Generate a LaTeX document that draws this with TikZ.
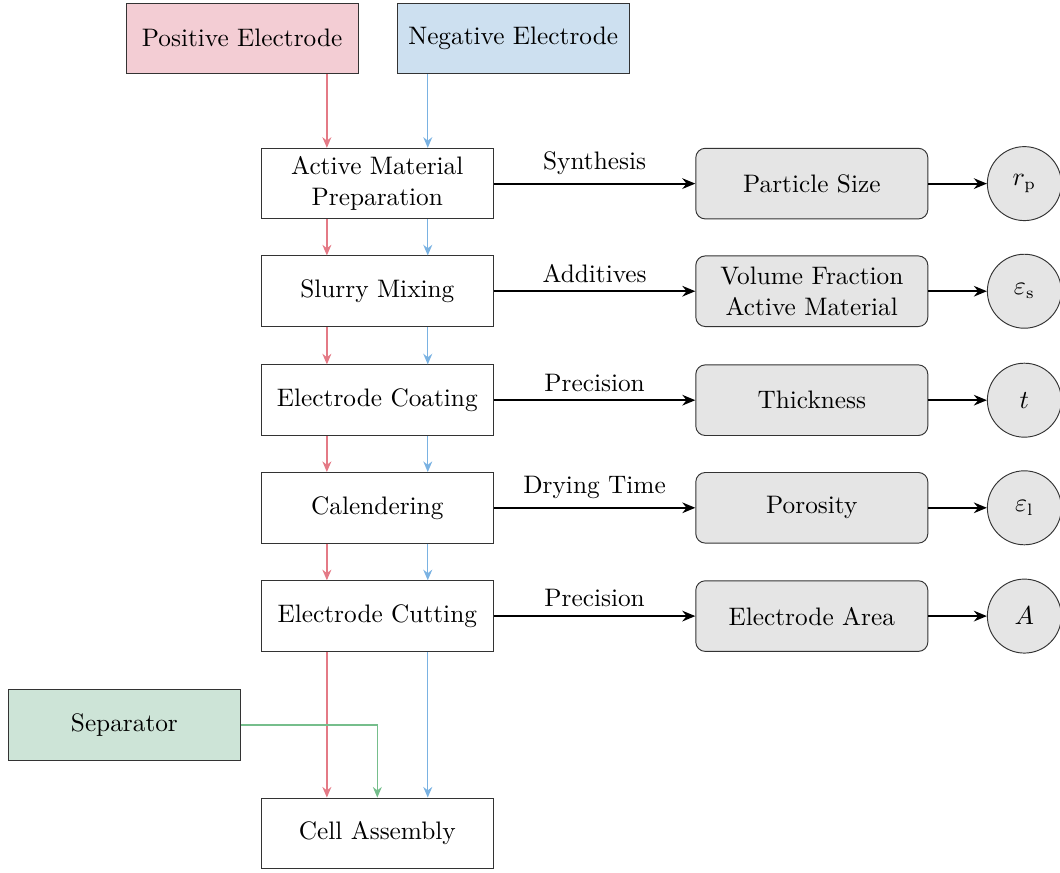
\documentclass[tikz,border=0pt]{standalone}
\usepackage{amsmath}
\usetikzlibrary{calc,arrows.meta}
\definecolor{posfill}{RGB}{243,205,212}
\definecolor{negfill}{RGB}{205,224,240}
\definecolor{sepfill}{RGB}{205,228,215}
\definecolor{posline}{RGB}{228,122,134}
\definecolor{negline}{RGB}{122,178,226}
\definecolor{sepline}{RGB}{118,190,140}
\tikzset{
  stepbox/.style={draw=black!80,fill=white,minimum width=3.45cm,minimum height=1.05cm,align=center,
    font=\fontsize{10.7}{13}\selectfont},
  propbox/.style={stepbox,fill=gray!20,rounded corners=4pt},
  varcirc/.style={draw=black!80,fill=gray!20,circle,minimum size=1.1cm,font=\fontsize{10.7}{13}\selectfont},
  flow/.style={-{Stealth[length=5.5pt,width=4.5pt]},thick},
  posflow/.style={-{Stealth[length=4.5pt,width=3.8pt]},posline,semithick},
  negflow/.style={-{Stealth[length=4.5pt,width=3.8pt]},negline,semithick},
  sepflow/.style={-{Stealth[length=4.5pt,width=3.8pt]},sepline,semithick},
  tag/.style={above,font=\fontsize{10.7}{13}\selectfont}
}

\begin{document}
\begin{tikzpicture}
  \useasboundingbox (0,0) rectangle (15.76,-12.97);

  % inputs
  \node[stepbox,fill=posfill] (pos) at (3.60,-0.57) {Positive Electrode};
  \node[stepbox,fill=negfill] (neg) at (7.63,-0.57) {Negative Electrode};
  \node[stepbox,fill=sepfill] (sep) at (1.85,-10.78) {Separator};

  % process steps
  \node[stepbox] (prep)   at (5.61,-2.73)  {Active Material\\Preparation};
  \node[stepbox] (slurry) at (5.61,-4.33)  {Slurry Mixing};
  \node[stepbox] (coat)   at (5.61,-5.95)  {Electrode Coating};
  \node[stepbox] (cal)    at (5.61,-7.55)  {Calendering};
  \node[stepbox] (cut)    at (5.61,-9.16)  {Electrode Cutting};
  \node[stepbox] (cell)   at (5.61,-12.39) {Cell Assembly};

  % properties
  \node[propbox] (size)  at (12.07,-2.73) {Particle Size};
  \node[propbox] (frac)  at (12.07,-4.33) {Volume Fraction\\Active Material};
  \node[propbox] (thick) at (12.07,-5.95) {Thickness};
  \node[propbox] (poro)  at (12.07,-7.55) {Porosity};
  \node[propbox] (area)  at (12.07,-9.16) {Electrode Area};

  % parameters
  \node[varcirc] (rp)  at (15.23,-2.73) {$r_{\mathrm{p}}$};
  \node[varcirc] (es)  at (15.23,-4.33) {$\varepsilon_{\mathrm{s}}$};
  \node[varcirc] (tt)  at (15.23,-5.95) {$t$};
  \node[varcirc] (el)  at (15.23,-7.55) {$\varepsilon_{\mathrm{l}}$};
  \node[varcirc] (aa)  at (15.23,-9.16) {$A$};

  % electrode lanes
  \coordinate (redx)  at (4.86,0);
  \coordinate (bluex) at (6.36,0);

  \draw[posflow] (pos.south -| redx) -- (prep.north -| redx);
  \draw[posflow] (prep.south -| redx) -- (slurry.north -| redx);
  \draw[posflow] (slurry.south -| redx) -- (coat.north -| redx);
  \draw[posflow] (coat.south -| redx) -- (cal.north -| redx);
  \draw[posflow] (cal.south -| redx) -- (cut.north -| redx);
  \draw[posflow] (cut.south -| redx) -- (cell.north -| redx);

  \draw[negflow] (neg.south -| bluex) -- (prep.north -| bluex);
  \draw[negflow] (prep.south -| bluex) -- (slurry.north -| bluex);
  \draw[negflow] (slurry.south -| bluex) -- (coat.north -| bluex);
  \draw[negflow] (coat.south -| bluex) -- (cal.north -| bluex);
  \draw[negflow] (cal.south -| bluex) -- (cut.north -| bluex);
  \draw[negflow] (cut.south -| bluex) -- (cell.north -| bluex);

  \draw[sepflow] (sep.east) -| (cell.north);

  % step -> property -> parameter
  \draw[flow] (prep.east) -- node[tag]{Synthesis} (size.west);
  \draw[flow] (slurry.east) -- node[tag]{Additives} (frac.west);
  \draw[flow] (coat.east) -- node[tag]{Precision} (thick.west);
  \draw[flow] (cal.east) -- node[tag]{Drying Time} (poro.west);
  \draw[flow] (cut.east) -- node[tag]{Precision} (area.west);

  \draw[flow] (size.east) -- (rp);
  \draw[flow] (frac.east) -- (es);
  \draw[flow] (thick.east) -- (tt);
  \draw[flow] (poro.east) -- (el);
  \draw[flow] (area.east) -- (aa);
\end{tikzpicture}
\end{document}
